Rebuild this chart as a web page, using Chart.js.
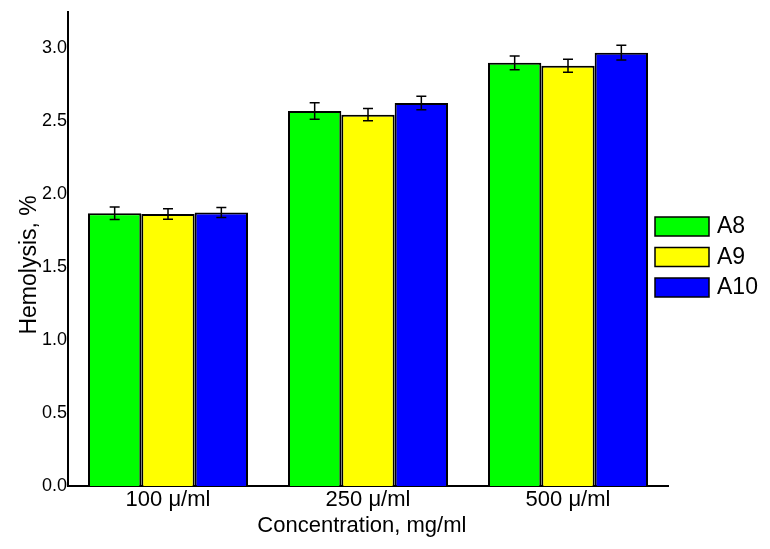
<!DOCTYPE html>
<html>
<head>
<meta charset="utf-8">
<script src="https://cdn.jsdelivr.net/npm/chart.js@4"></script>
<style>
  html, body { margin: 0; padding: 0; background: #fff; }
  #wrap { width: 770px; height: 549px; }
</style>
</head>
<body>
<div id="wrap"><canvas id="c" width="770" height="549"></canvas></div>
<script>
const categories = ["100 \u03bc/ml", "250 \u03bc/ml", "500 \u03bc/ml"];
const seriesNames = ["A8", "A9", "A10"];
const a8Values = [1.87, 2.57, 2.90];
const a9Values = [1.865, 2.545, 2.88];
const a10Values = [1.875, 2.625, 2.97];
const a8Errors = [0.043, 0.057, 0.047];
const a9Errors = [0.036, 0.042, 0.045];
const a10Errors = [0.034, 0.047, 0.05];
const yTicks = [0, 0.5, 1.0, 1.5, 2.0, 2.5, 3.0];

const colors = ["#00ff00", "#ffff00", "#0000ff"];
const FONT = "'Liberation Sans', Arial, sans-serif";

const errorBars = {
  id: 'errorBars',
  afterDatasetsDraw(chart) {
    const ctx = chart.ctx;
    const y = chart.scales.y;
    ctx.save();
    ctx.strokeStyle = '#000';
    ctx.lineWidth = 1.5;
    chart.data.datasets.forEach((ds, di) => {
      const meta = chart.getDatasetMeta(di);
      meta.data.forEach((bar, i) => {
        const v = ds.data[i], e = ds.errors[i];
        const yt = y.getPixelForValue(v + e);
        const yb = y.getPixelForValue(v - e);
        const x = bar.x;
        ctx.beginPath();
        ctx.moveTo(x, yt); ctx.lineTo(x, yb);
        ctx.moveTo(x - 5, yt); ctx.lineTo(x + 5, yt);
        ctx.moveTo(x - 5, yb); ctx.lineTo(x + 5, yb);
        ctx.stroke();
      });
    });
    ctx.restore();
  }
};

const sideLegend = {
  id: 'sideLegend',
  afterDraw(chart) {
    const ctx = chart.ctx;
    const ca = chart.chartArea;
    ctx.save();
    ctx.font = "23px " + FONT;
    ctx.textBaseline = 'middle';
    ctx.textAlign = 'left';
    chart.data.datasets.forEach((ds, i) => {
      const bx = ca.right - 13;
      const by = 217 + i * 30.5;
      ctx.fillStyle = ds.backgroundColor;
      ctx.fillRect(bx, by, 54, 19);
      ctx.strokeStyle = '#000';
      ctx.lineWidth = 1.5;
      ctx.strokeRect(bx, by, 54, 19);
      ctx.fillStyle = '#000';
      ctx.fillText(ds.label, bx + 62, by + 10);
    });
    ctx.restore();
  }
};

new Chart(document.getElementById('c'), {
  type: 'bar',
  data: {
    labels: categories,
    datasets: [
      { label: seriesNames[0], data: a8Values, errors: a8Errors, backgroundColor: colors[0] },
      { label: seriesNames[1], data: a9Values, errors: a9Errors, backgroundColor: colors[1] },
      { label: seriesNames[2], data: a10Values, errors: a10Errors, backgroundColor: colors[2] }
    ].map(d => Object.assign(d, { borderColor: '#000', borderWidth: 2, borderSkipped: 'bottom',
      categoryPercentage: 0.8, barPercentage: 1.0 }))
  },
  options: {
    responsive: false,
    animation: false,
    devicePixelRatio: 1,
    layout: { padding: { left: 0, right: 102, top: 11, bottom: 0 } },
    plugins: { legend: { display: false }, tooltip: { enabled: false } },
    scales: {
      x: {
        grid: { display: false, drawTicks: false },
        border: { display: true, color: '#000', width: 2 },
        ticks: { color: '#000', font: { family: FONT, size: 22 }, padding: 1, maxRotation: 0 },
        title: { display: true, text: 'Concentration, mg/ml  ', color: '#000',
          font: { family: FONT, size: 22 }, padding: { top: 0, bottom: 10 } },
        afterFit(s) { s.height = 63; }
      },
      y: {
        min: 0, max: 3.25,
        grid: { display: false, drawTicks: false },
        border: { display: true, color: '#000', width: 2 },
        afterBuildTicks(s) { s.ticks = yTicks.map(v => ({ value: v })); },
        ticks: { color: '#000', font: { family: FONT, size: 18 }, padding: 1,
          callback: v => Number(v).toFixed(1) },
        title: { display: true, text: 'Hemolysis, %     ', color: '#000',
          font: { family: FONT, size: 23 }, padding: { top: 16, bottom: 0 } },
        afterFit(s) { s.width = 68; }
      }
    }
  },
  plugins: [errorBars, sideLegend]
});
</script>
</body>
</html>
